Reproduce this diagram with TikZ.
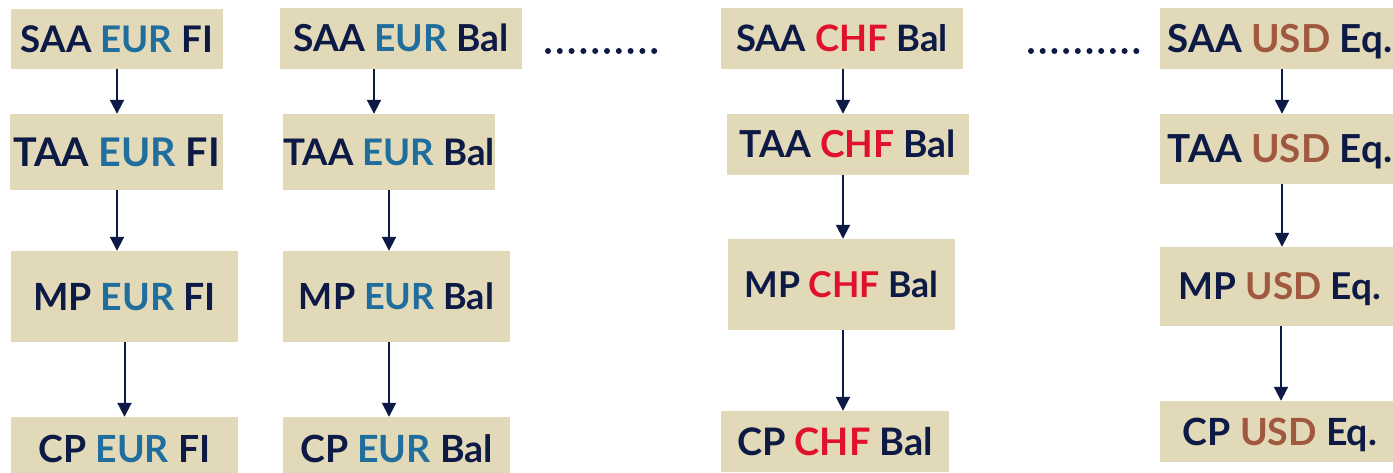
\documentclass[tikz,border=0pt]{standalone}
\usepackage{fontspec}
\setmainfont{Lato}
\usetikzlibrary{arrows.meta}
\definecolor{boxfill}{HTML}{E2D9B8}
\definecolor{navy}{HTML}{0C1A45}
\definecolor{eurblue}{HTML}{1F6E9E}
\definecolor{chfred}{HTML}{E0122B}
\definecolor{usdbrown}{HTML}{A0583E}
\tikzset{
  bx/.style n args={3}{draw=none, fill=boxfill, inner sep=0pt, minimum width=#1pt, minimum height=#2pt,
    text=navy, font=\fontsize{#3}{#3}\selectfont\bfseries, text height=0.72*#3pt, text depth=0pt},
  arr/.style={draw=navy, line width=2pt, -{Triangle[length=14pt,width=14pt]}},
  dotc/.style={fill=navy, draw=none}
}
\newcommand{\eur}{\textcolor{eurblue}{EUR}}
\newcommand{\chf}{\textcolor{chfred}{CHF}}
\newcommand{\usd}{\textcolor{usdbrown}{USD}}
\begin{document}
\begin{tikzpicture}[x=1pt,y=-1pt]
\useasboundingbox (0,0) rectangle (1393,473);
\clip (0,0) rectangle (1393,473);
% column 1
\node[bx={212}{60}{36.7}] (s1) at (117,39) {SAA \eur{} FI};
\node[bx={213}{76}{39.5}] (t1) at (116.5,152) {TAA \eur{} FI};
\node[bx={227}{91}{37.5}] (m1) at (124.5,296.5) {MP \eur{} FI};
\node[bx={227}{64}{37.4}] (c1) at (124.5,449) {CP \eur{} FI};
% column 2
\node[bx={242}{61}{37.2}] (s2) at (401,38.5) {SAA \eur{} Bal};
\node[bx={212}{76}{36.6}] (t2) at (389,152) {TAA \eur{} Bal};
\node[bx={227}{91}{36}] (m2) at (396.5,296.5) {MP \eur{} Bal};
\node[bx={227}{64}{37.5}] (c2) at (396.5,449) {CP \eur{} Bal};
% column 3
\node[bx={242}{61}{36.4}] (s3) at (842,38.5) {SAA \chf{} Bal};
\node[bx={242}{61}{37.2}] (t3) at (848,144.5) {TAA \chf{} Bal};
\node[bx={227}{91}{35.6}] (m3) at (841.5,284.5) {MP \chf{} Bal};
\node[bx={228}{61}{37.9}] (c3) at (835,441.5) {CP \chf{} Bal};
% column 4
\node[bx={240}{61}{38.6}] (s4) at (1280,38.5) {SAA \usd{} Eq.};
\node[bx={240}{70}{38.6}] (t4) at (1280,149) {TAA \usd{} Eq.};
\node[bx={240}{79}{37}] (m4) at (1280,286.5) {MP \usd{} Eq.};
\node[bx={240}{61}{37.5}] (c4) at (1280,431.5) {CP \usd{} Eq.};
% dots
\coordinate (d1) at (548,51);
\coordinate (d2) at (1031,51);
\foreach \i in {0,...,9} {
  \fill[dotc] ([xshift=\i*11.8pt]d1) circle (3pt);
  \fill[dotc] ([xshift=\i*11.7pt]d2) circle (3pt);
}
% arrows column 1
\draw[arr] (s1.south) -- (s1.south |- t1.north);
\draw[arr] ([xshift=0.5pt]t1.south) -- ([xshift=0.5pt]t1.south |- m1.north);
\draw[arr] (m1) -- (m1 |- c1.north);
% column 2
\draw[arr] ([xshift=-27pt]s2.south) -- ([xshift=-27pt]s2.south |- t2.north);
\draw[arr] (t2) -- (t2 |- m2.north);
\draw[arr] ([xshift=-7.5pt]m2.south) -- ([xshift=-7.5pt]m2.south |- c2.north);
% column 3
\draw[arr] ([xshift=1pt]s3.south) -- ([xshift=1pt]s3.south |- t3.north);
\draw[arr] ([xshift=-5pt]t3.south) -- ([xshift=-5pt]t3.south |- m3.north);
\draw[arr] ([xshift=1.5pt]m3.south) -- ([xshift=1.5pt]m3.south |- c3.north);
% column 4
\draw[arr] ([xshift=2pt]s4.south) -- ([xshift=2pt]s4.south |- t4.north);
\draw[arr] ([xshift=2pt]t4.south) -- ([xshift=2pt]t4.south |- m4.north);
\draw[arr] ([xshift=1pt]m4.south) -- ([xshift=1pt]m4.south |- c4.north);
\end{tikzpicture}
\end{document}
